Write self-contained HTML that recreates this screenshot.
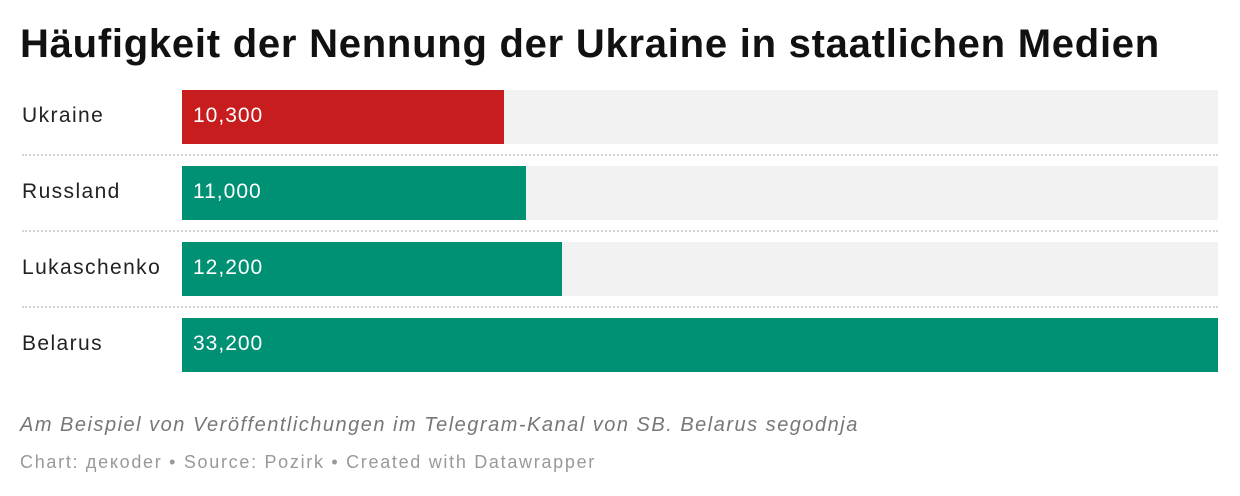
<!DOCTYPE html><html><head><meta charset="utf-8"><style>
body{margin:0;width:1240px;height:496px;background:#fff;font-family:"Liberation Sans",sans-serif;position:relative;overflow:hidden}
.t{position:absolute;left:20px;top:22px;font-size:40px;font-weight:bold;color:#111;letter-spacing:0.75px;white-space:nowrap}
.l{position:absolute;left:22px;font-size:21px;color:#222;letter-spacing:1.4px}
.bg{position:absolute;left:182px;width:1036px;height:54px;background:#f2f2f2}
.b{position:absolute;left:182px;height:54px}
.v{position:absolute;left:193px;font-size:21px;color:#fff;letter-spacing:1px}
.s{position:absolute;left:22px;width:1196px;border-top:2px dotted #d4d4d4}
.f{position:absolute;left:20px;font-size:20px;font-style:italic;color:#777;letter-spacing:1.5px;white-space:nowrap}
.c{position:absolute;left:20px;font-size:18px;color:#999;letter-spacing:1.7px;white-space:nowrap}
</style></head><body>
<div class="t">Häufigkeit der Nennung der Ukraine in staatlichen Medien</div>
<div class="bg" style="top:90px"></div><div class="b" style="top:90px;width:322px;background:#c81d1e"></div>
<div class="l" style="top:104px">Ukraine</div><div class="v" style="top:104px">10,300</div>
<div class="s" style="top:154px"></div>
<div class="bg" style="top:166px"></div><div class="b" style="top:166px;width:344px;background:#009175"></div>
<div class="l" style="top:180px">Russland</div><div class="v" style="top:180px">11,000</div>
<div class="s" style="top:230px"></div>
<div class="bg" style="top:242px"></div><div class="b" style="top:242px;width:380px;background:#009175"></div>
<div class="l" style="top:256px">Lukaschenko</div><div class="v" style="top:256px">12,200</div>
<div class="s" style="top:306px"></div>
<div class="b" style="top:318px;width:1036px;background:#009175"></div>
<div class="l" style="top:332px">Belarus</div><div class="v" style="top:332px">33,200</div>
<div class="f" style="top:414px">Am Beispiel von Veröffentlichungen im Telegram-Kanal von SB. Belarus segodnja</div>
<div class="c" style="top:452px">Chart: декоder • Source: Pozirk • Created with Datawrapper</div>
</body></html>
